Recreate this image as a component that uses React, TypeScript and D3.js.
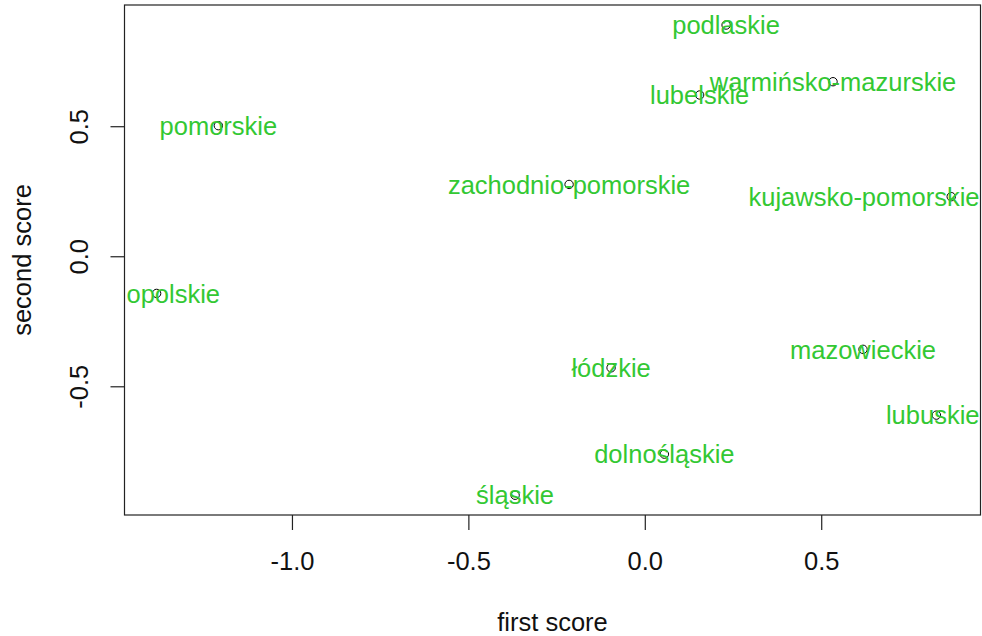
import React from "react";
import * as d3 from "d3";

const regions = [
  "podlaskie",
  "warmińsko-mazurskie",
  "lubelskie",
  "kujawsko-pomorskie",
  "zachodnio-pomorskie",
  "pomorskie",
  "opolskie",
  "łódzkie",
  "dolnośląskie",
  "śląskie",
  "mazowieckie",
  "lubuskie",
];
const firstScore = [0.229, 0.532, 0.154, 0.867, -0.216, -1.21, -1.385, -0.097, 0.054, -0.369, 0.617, 0.825];
const secondScore = [0.891, 0.673, 0.622, 0.231, 0.278, 0.504, -0.141, -0.427, -0.759, -0.917, -0.356, -0.609];
const xTicks = [-1.0, -0.5, 0.0, 0.5];
const yTicks = [-0.5, 0.0, 0.5];

const W = 982;
const H = 636;
const left = 124.5, right = 980.5, top = 5, bottom = 515;
const FONT = "'Liberation Sans', Arial, sans-serif";
const FS = 25.5;
const GREEN = "#33c833";
const AXIS = "#222";

function measure(t: string): number {
  const c = document.createElement("canvas");
  const ctx = c.getContext("2d");
  if (!ctx) return t.length * FS * 0.5;
  ctx.font = `${FS}px 'Liberation Sans', Arial, sans-serif`;
  return ctx.measureText(t).width;
}

export default function App() {
  const x = d3.scaleLinear().domain([-1.476, 0.950]).range([left, right]);
  const y = d3.scaleLinear().domain([-0.993, 0.968]).range([bottom, top]);
  const fmt = (v: number) => d3.format(".1f")(v).replace("\u2212", "-");
  const midX = (left + right) / 2;
  const midY = (top + bottom) / 2;
  return (
    <svg width={W} height={H} style={{ position: "absolute", left: 0, top: 0, background: "#fff" }} fontFamily={FONT}>
      <rect x={0} y={0} width={W} height={H} fill="#fff" />
      <rect x={left} y={top} width={right - left} height={bottom - top} fill="none" stroke={AXIS} strokeWidth={1.2} />
      {xTicks.map((t) => (
        <g key={"x" + t}>
          <line x1={x(t)} x2={x(t)} y1={bottom} y2={bottom + 15} stroke={AXIS} strokeWidth={1.2} />
          <text x={x(t)} y={570} textAnchor="middle" fontSize={FS} fill="#111">{fmt(t)}</text>
        </g>
      ))}
      {yTicks.map((t) => (
        <g key={"y" + t}>
          <line x1={left - 14} x2={left} y1={y(t)} y2={y(t)} stroke={AXIS} strokeWidth={1.2} />
          <text transform={`translate(88,${y(t)}) rotate(-90)`} textAnchor="middle" fontSize={FS} fill="#111">{fmt(t)}</text>
        </g>
      ))}
      <text x={midX} y={631} textAnchor="middle" fontSize={FS} fill="#111">first score</text>
      <text transform={`translate(31,${midY}) rotate(-90)`} textAnchor="middle" fontSize={FS} fill="#111">second score</text>
      {regions.map((r, i) => (
        <circle key={"c" + r} cx={x(firstScore[i])} cy={y(secondScore[i])} r={4.2} fill="none" stroke="#000" strokeWidth={1} />
      ))}
      {regions.map((r, i) => {
        const w = measure(r);
        const cx = Math.max(left + w / 2 + 2, Math.min(right - w / 2 - 1, x(firstScore[i])));
        return (
          <text key={"t" + r} x={cx} y={y(secondScore[i])} dy="0.36em" textAnchor="middle" fontSize={FS} fill={GREEN}>{r}</text>
        );
      })}
    </svg>
  );
}
